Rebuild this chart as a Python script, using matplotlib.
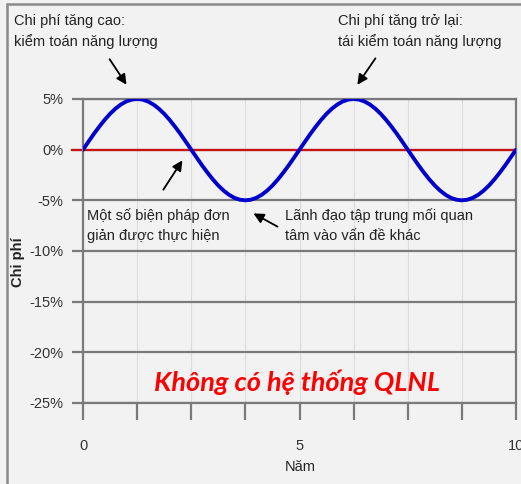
import matplotlib
matplotlib.use('Agg')
import matplotlib.pyplot as plt
from matplotlib.patches import Rectangle

# năm (mỗi 0.125) và chi phí (%)
years = [i * 0.125 for i in range(81)]
cost = [0, 0.78, 1.55, 2.27, 2.94, 3.54, 4.05, 4.46, 4.76, 4.94,
        5.0, 4.94, 4.76, 4.46, 4.05, 3.54, 2.94, 2.27, 1.55, 0.78,
        0, -0.78, -1.55, -2.27, -2.94, -3.54, -4.05, -4.46, -4.76, -4.94,
        -5.0, -4.94, -4.76, -4.46, -4.05, -3.54, -2.94, -2.27, -1.55, -0.78,
        0, 0.78, 1.55, 2.27, 2.94, 3.54, 4.05, 4.46, 4.76, 4.94,
        5.0, 4.94, 4.76, 4.46, 4.05, 3.54, 2.94, 2.27, 1.55, 0.78,
        0, -0.78, -1.55, -2.27, -2.94, -3.54, -4.05, -4.46, -4.76, -4.94,
        -5.0, -4.94, -4.76, -4.46, -4.05, -3.54, -2.94, -2.27, -1.55, -0.78, 0]
yticks = [5, 0, -5, -10, -15, -20, -25]
xticks = [i * 1.25 for i in range(9)]
xlabels = {0: '0', 5: '5', 10: '10'}

notes = [
    ('Chi phí tăng cao:\nkiểm toán năng lượng', (-1.59, 13.4), (1.04, 6.18), (0.58, 9.15)),
    ('Chi phí tăng trở lại:\ntái kiểm toán năng lượng', (5.89, 13.4), (6.30, 6.18), (6.79, 9.24)),
    ('Một số biện pháp đơn\ngiản được thực hiện', (0.09, -5.76), (2.33, -0.82), (1.82, -4.18)),
    ('Lãnh đạo tập trung mối quan\ntâm vào vấn đề khác', (4.67, -5.76), (3.88, -6.16), (4.55, -7.73)),
]

plt.rcParams['font.family'] = ['Liberation Sans Narrow', 'Liberation Sans', 'DejaVu Sans']
bg = '#f2f2f2'
grey = '#7a7a7a'

fig = plt.figure(figsize=(5.21, 4.84), dpi=100, facecolor=bg)
ax = fig.add_axes([83 / 521, 1 - 403 / 484, 433 / 521, 304 / 484])
ax.set_facecolor(bg)

fig.patches.append(Rectangle((7 / 521, -0.1), 1.2, 1.1 - 4 / 484, transform=fig.transFigure,
                             fill=False, edgecolor='#8a8a8a', lw=1.8))

for x in xticks:
    ax.axvline(x, color='#dcdcdc', lw=0.8, zorder=0)
for y in yticks:
    ax.axhline(y, color=grey, lw=1.6, zorder=1)

ax.axhline(0, xmin=-0.026, color='#d01010', lw=1.6, clip_on=False, zorder=2)
ax.plot(years, cost, color='#0000cc', lw=2.8, zorder=3, solid_capstyle='round')

ax.set_xlim(0, 10)
ax.set_ylim(-25, 5)
ax.set_yticks(yticks)
ax.set_yticklabels([f'{v}%' for v in yticks])
ax.set_xticks(xticks)
ax.set_xticklabels([xlabels.get(x, '') for x in xticks])
ax.tick_params(axis='y', length=8, width=1.6, color=grey, pad=6, labelsize=10.5, labelcolor='#333333')
ax.tick_params(axis='x', length=12, width=1.6, color=grey, pad=14, labelsize=10.5, labelcolor='#333333')
for s in ax.spines.values():
    s.set_color(grey)
    s.set_linewidth(1.6)
ax.spines['left'].set_bounds(-25, 5)

fig.text(18 / 521, 1 - 262 / 484, 'Chi phí', rotation=90, ha='center', va='center',
         fontsize=10.5, fontweight='bold', color='#222222')
fig.text(300 / 521, 1 - 467 / 484, 'Năm', ha='center', va='center',
         fontsize=10.5, color='#222222')

for text, pos, head, tail in notes:
    ax.text(pos[0], pos[1], text, ha='left', va='top', fontsize=10.5, color='#222222',
            linespacing=1.55, clip_on=False)
    ax.annotate('', xy=head, xytext=tail, annotation_clip=False,
                arrowprops=dict(arrowstyle='-|>', color='black', lw=1.3, mutation_scale=15))

ax.text(4.94, -23.0, 'Không có hệ thống QLNL', ha='center', va='center', color='#ff0000',
        fontsize=19.5, fontweight='bold', fontstyle='italic', family=['Lato', 'DejaVu Sans'])

fig.savefig('out.png', dpi=100, facecolor=bg)
